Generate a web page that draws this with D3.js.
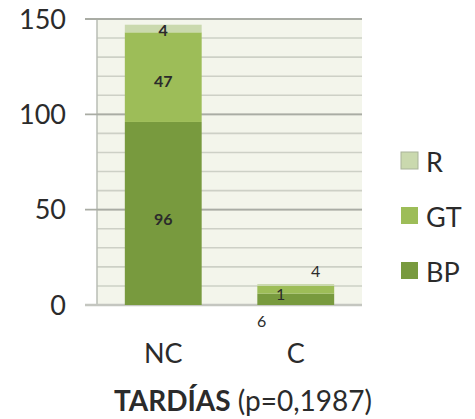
<!DOCTYPE html>
<html>
<head>
<meta charset="utf-8">
<script src="https://cdn.jsdelivr.net/npm/d3@7"></script>
<style>
  html, body { margin: 0; padding: 0; background: #ffffff; }
  svg { display: block; }
  text { font-family: Lato, "Open Sans", sans-serif; fill: #2b2b2b; }
</style>
</head>
<body>
<svg id="chart" width="475" height="419"></svg>
<script>
// Categories on the x axis
const categories = ["NC", "C"];
// Stacked series, bottom to top
const seriesNames = ["BP", "GT", "R"];
const bpValues = [96, 6];
const gtValues = [47, 4];
const rValues = [4, 1];
// Y axis ticks
const yTicks = [0, 50, 100, 150];
const yGrid = d3.range(0, 151, 10);
const titleBold = "TARDÍAS";
const titleRest = " (p=0,1987)";

const colors = { BP: "#789a3e", GT: "#9dbd58", R: "#cad9ae" };

const svg = d3.select("#chart");
const plot = { left: 97, right: 362, top: 19, bottom: 305 };

const y = d3.scaleLinear().domain([0, 150]).range([plot.bottom, plot.top]);
const x = d3.scaleBand().domain(categories)
  .range([plot.left, plot.right]).paddingInner(0.42).paddingOuter(0.21);

// stacked layout
const rows = categories.map((c, i) => ({ cat: c, BP: bpValues[i], GT: gtValues[i], R: rValues[i] }));
const stacked = d3.stack().keys(seriesNames)(rows);

// plot background
svg.append("rect")
  .attr("x", plot.left).attr("y", plot.top)
  .attr("width", plot.right - plot.left).attr("height", plot.bottom - plot.top)
  .attr("fill", "#f3f5eb");

// minor gridlines
svg.append("g").selectAll("line").data(yGrid).join("line")
  .attr("x1", plot.left).attr("x2", plot.right)
  .attr("y1", d => y(d)).attr("y2", d => y(d))
  .attr("stroke", "#cdd0c6").attr("stroke-width", 1.6);

// left axis line
svg.append("line")
  .attr("x1", plot.left).attr("x2", plot.left)
  .attr("y1", plot.top).attr("y2", plot.bottom)
  .attr("stroke", "#b9bcb4").attr("stroke-width", 1.5);

// major gridlines with outward ticks
svg.append("g").selectAll("line").data(yTicks).join("line")
  .attr("x1", 85).attr("x2", plot.right)
  .attr("y1", d => y(d)).attr("y2", d => y(d))
  .attr("stroke", d => d === 0 ? "#c4c6c0" : "#a9aca4").attr("stroke-width", d => d === 0 ? 2.5 : 1.8);

// y tick labels
svg.append("g").selectAll("text").data(yTicks).join("text")
  .attr("x", 66).attr("y", d => y(d))
  .attr("dy", "0.36em")
  .attr("text-anchor", "end")
  .attr("font-size", 27)
  .text(d => d);

// bars
svg.append("g").selectAll("g").data(stacked).join("g")
  .attr("fill", d => colors[d.key])
  .selectAll("rect").data(d => d).join("rect")
  .attr("x", d => x(d.data.cat))
  .attr("width", x.bandwidth())
  .attr("y", d => y(d[1]))
  .attr("height", d => y(d[0]) - y(d[1]));

// segment value labels (small segments of C are labelled outside)
const labelPos = {
  NC: { BP: [0, 6], GT: [0, 4], R: [0, 2] },
  C:  { BP: [-34, 0], GT: [20, 0], R: [-15, 0] }
};
const cLabelY = { BP: 321, GT: 271, R: 294 };
const labels = [];
stacked.forEach(s => s.forEach(d => {
  labels.push({ key: s.key, cat: d.data.cat, v: d[1] - d[0], mid: (d[0] + d[1]) / 2 });
}));
svg.append("g").selectAll("text").data(labels).join("text")
  .attr("x", d => x(d.cat) + x.bandwidth() / 2 + labelPos[d.cat][d.key][0])
  .attr("y", d => d.cat === "C" ? cLabelY[d.key] : y(d.mid) + labelPos[d.cat][d.key][1])
  .attr("dy", "0.36em")
  .attr("text-anchor", "middle")
  .attr("font-size", 16)
  .attr("font-weight", d => d.cat === "NC" ? "bold" : "normal")
  .attr("fill", d => d.cat === "NC" ? "#2f3a1c" : "#444")
  .text(d => d.v);

// x category labels
svg.append("g").selectAll("text").data(categories).join("text")
  .attr("x", d => x(d) + x.bandwidth() / 2)
  .attr("y", 353)
  .attr("dy", "0.36em")
  .attr("text-anchor", "middle")
  .attr("font-size", 27)
  .text(d => d);

// title
const title = svg.append("text")
  .attr("x", 243).attr("y", 401)
  .attr("dy", "0.36em")
  .attr("text-anchor", "middle")
  .attr("font-size", 28);
title.append("tspan").attr("font-weight", "bold").text(titleBold);
title.append("tspan").text(titleRest);

// legend, top entry is the top of the stack
const legendItems = seriesNames.slice().reverse();
const lg = svg.append("g").selectAll("g").data(legendItems).join("g")
  .attr("transform", (d, i) => `translate(401, ${161 + i * 55})`);
lg.append("rect")
  .attr("x", 0).attr("y", -9).attr("width", 17).attr("height", 17)
  .attr("fill", d => colors[d])
  .attr("stroke", d => d === "R" ? "#a9b39a" : "none");
lg.append("text")
  .attr("x", 25).attr("y", 1)
  .attr("dy", "0.36em")
  .attr("font-size", 27)
  .text(d => d);
</script>
</body>
</html>
